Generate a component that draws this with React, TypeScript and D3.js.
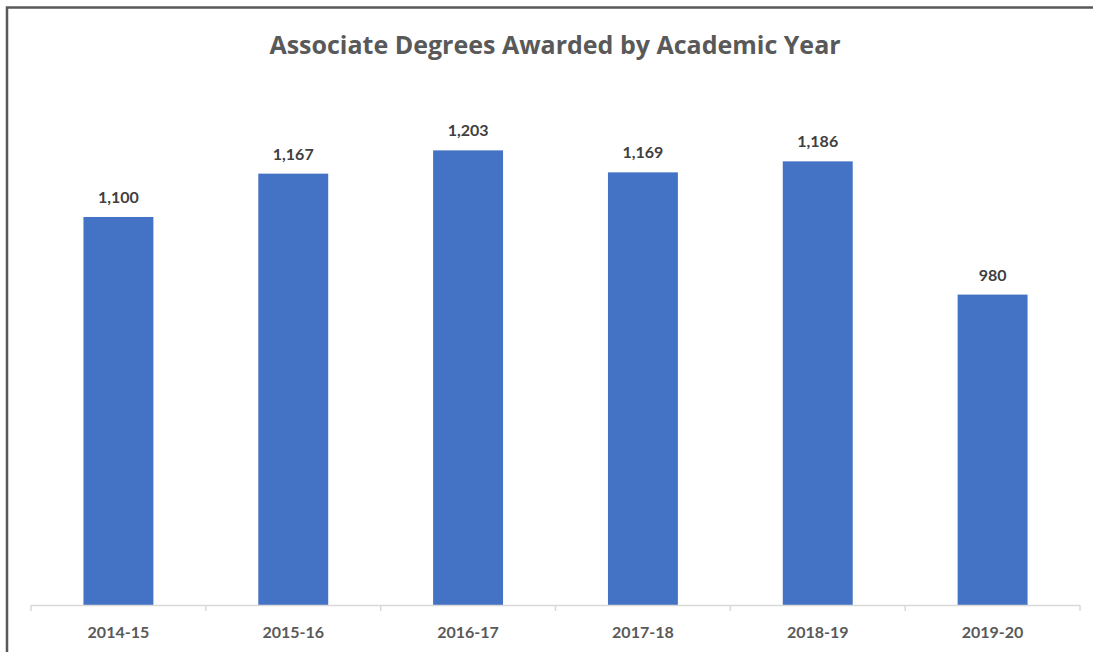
import React from "react";
import * as d3 from "d3";

const categories = ["2014-15", "2015-16", "2016-17", "2017-18", "2018-19", "2019-20"];
const values = [1100, 1167, 1203, 1169, 1186, 980];
const yDomain = [500, 1300];
const title = "Associate Degrees Awarded by Academic Year";

const W = 1093;
const H = 652;
const FONT = "Lato, 'Open Sans', sans-serif";
const TFONT = "'Open Sans', Lato, sans-serif";

export default function App() {
  const x = d3.scaleBand<string>().domain(categories).range([31, 1080]).paddingInner(0).paddingOuter(0);
  const y = d3.scaleLinear().domain(yDomain).range([605, 605 - 800 * 0.6467]);
  const bw = x.bandwidth() * 0.4;
  const fmt = d3.format(",");
  const ticks = categories.map((c) => x(c) as number).concat([1080]);
  return (
    <div style={{ position: "absolute", left: 0, top: 0 }}>
      <svg width={W} height={H} style={{ display: "block", background: "#fff" }}>
        <rect x={7} y={7.5} width={1200} height={800} fill="#fff" stroke="#595959" strokeWidth={2.5} />
        <text x={555} y={54} textAnchor="middle" fontFamily={TFONT} fontWeight={700} fontSize={25} fill="#595959">
          {title}
        </text>
        {categories.map((c, i) => {
          const cx = (x(c) as number) + x.bandwidth() / 2;
          return (
            <g key={c}>
              <rect x={cx - bw / 2} y={y(values[i])} width={bw} height={605 - y(values[i])} fill="#4472c4" />
              <text x={cx} y={y(values[i]) - 14} textAnchor="middle" fontFamily={FONT} fontWeight={700} fontSize={16} fill="#404040">
                {fmt(values[i])}
              </text>
              <text x={cx} y={638} textAnchor="middle" fontFamily={FONT} fontWeight={700} fontSize={16} fill="#595959">
                {c}
              </text>
            </g>
          );
        })}
        <line x1={31} x2={1080} y1={605.5} y2={605.5} stroke="#d9d9d9" strokeWidth={1.5} />
        {ticks.map((t, i) => (
          <line key={i} x1={t} x2={t} y1={605} y2={611} stroke="#d9d9d9" strokeWidth={1.5} />
        ))}
      </svg>
    </div>
  );
}
